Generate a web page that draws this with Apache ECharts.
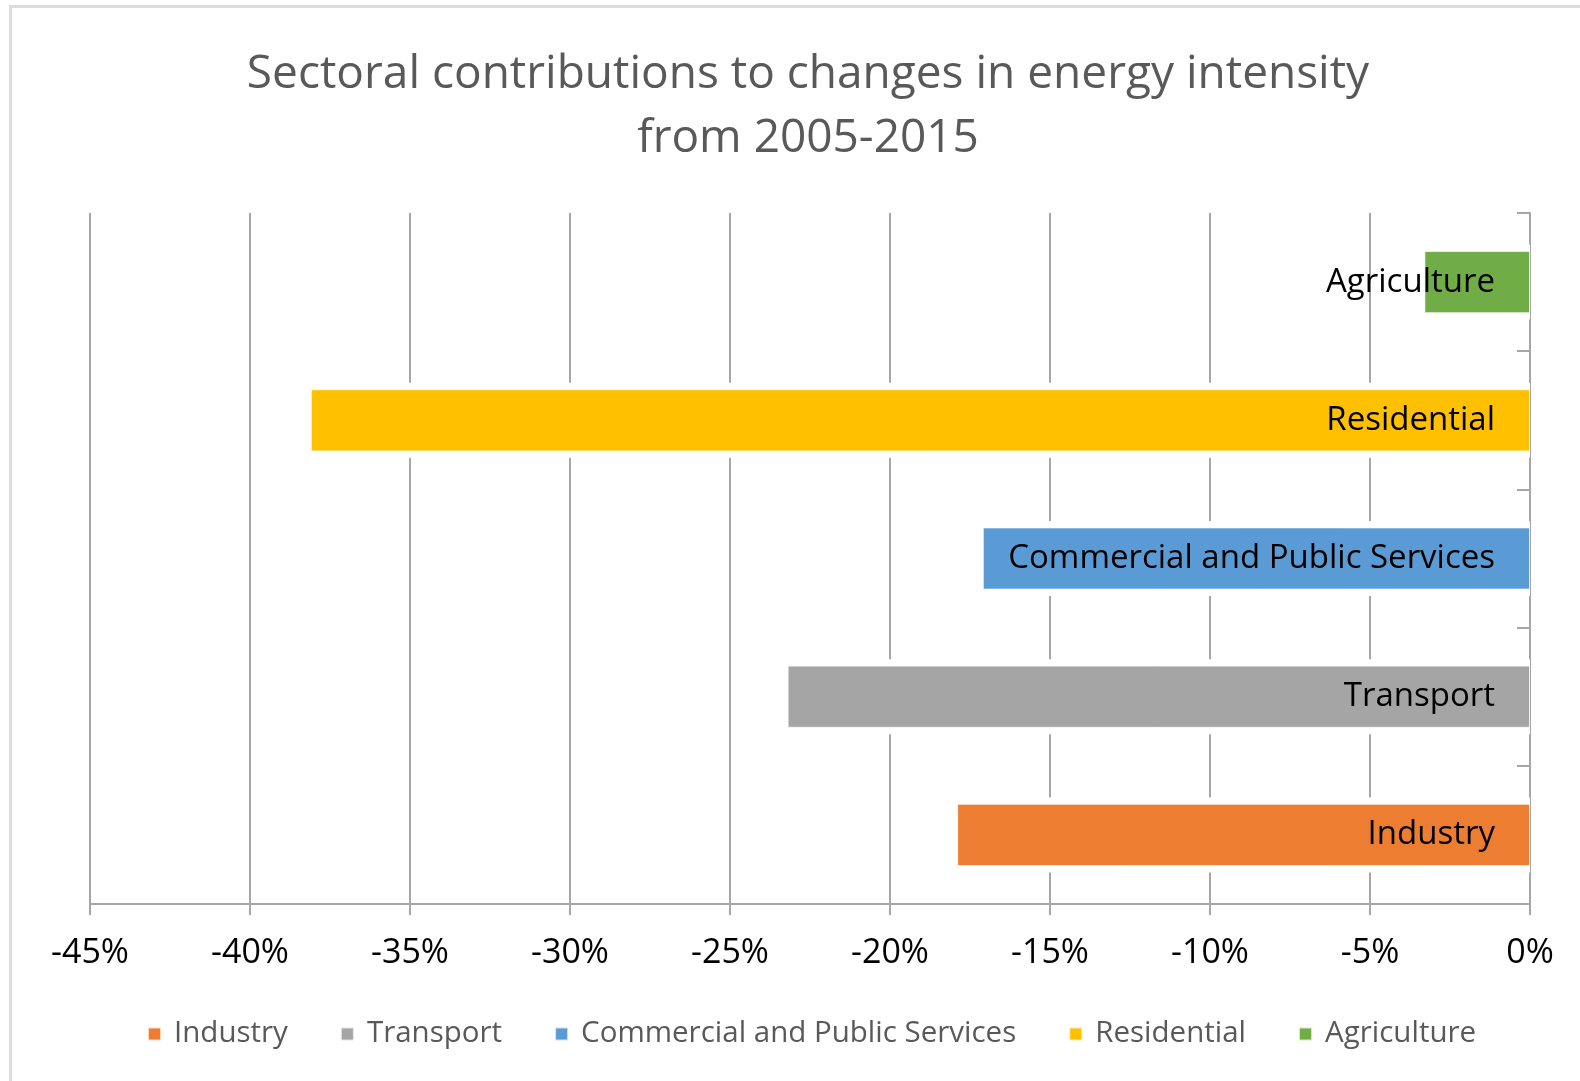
<!DOCTYPE html>
<html>
<head>
<meta charset="utf-8">
<script src="https://cdn.jsdelivr.net/npm/echarts@6/dist/echarts.min.js"></script>
<style>
  html, body { margin: 0; padding: 0; background: #fff; }
  #chart { width: 1580px; height: 1081px; }
</style>
</head>
<body>
<div id="chart"></div>
<script>
// sectors, bottom to top on the category axis
const categories = ['Industry', 'Transport', 'Commercial and Public Services', 'Residential', 'Agriculture'];
// contribution to change in energy intensity, 2005-2015 (%)
const values = [-17.9, -23.2, -17.1, -38.1, -3.3];
// x axis range / step (%)
const xMin = -45;
const xMax = 0;
const xStep = 5;

const colors = ['#ED7D31', '#A5A5A5', '#5B9BD5', '#FFC000', '#70AD47'];
const font = 'Open Sans';

const chart = echarts.init(document.getElementById('chart'));

// one series per sector so the legend gets 5 entries; stacked so each bar stays centred
const sectorSeries = categories.map(function (name, i) {
  return {
    name: name,
    type: 'bar',
    stack: 'total',
    barWidth: '45%',
    z: 3,
    data: values.map(function (v, j) { return j === i ? v : '-'; }),
    itemStyle: { color: colors[i], borderColor: 'rgba(255,255,255,0.7)', borderWidth: 1 },
    label: {
      show: true,
      position: 'insideRight',
      distance: 35,
      formatter: '{a}',
      color: '#000',
      fontFamily: font,
      fontSize: 33
    }
  };
});

// white band behind each bar, breaks the gridlines a little above/below like the original
const gapSeries = {
  name: 'gap',
  type: 'bar',
  yAxisIndex: 1,
  barWidth: 75,
  silent: true,
  z: 2,
  data: values,
  itemStyle: { color: '#fff' },
  label: { show: false }
};

const option = {
  animation: false,
  textStyle: { fontFamily: font },
  title: {
    text: 'Sectoral contributions to changes in energy intensity\nfrom 2005-2015',
    left: 803,
    top: 38,
    textAlign: 'center',
    textStyle: {
      fontFamily: font,
      fontSize: 46,
      fontWeight: 'normal',
      color: '#595959',
      lineHeight: 64
    }
  },
  legend: {
    data: categories,
    left: 142,
    bottom: 27,
    itemWidth: 13,
    itemHeight: 13,
    itemGap: 52,
    icon: 'rect',
    textStyle: {
      fontFamily: font,
      fontSize: 29.5,
      color: '#595959',
      padding: [0, 0, 0, 8]
    }
  },
  grid: { left: 90, right: 50, top: 213, bottom: 177 },
  xAxis: {
    type: 'value',
    min: xMin,
    max: xMax,
    interval: xStep,
    axisLine: { show: true, lineStyle: { color: '#a6a6a6', width: 2 } },
    axisTick: { show: true, length: 11, lineStyle: { color: '#a6a6a6', width: 2 } },
    axisLabel: {
      formatter: function (v) { return v + '%'; },
      color: '#000',
      fontFamily: font,
      fontSize: 34,
      margin: 32
    },
    splitLine: { show: true, lineStyle: { color: '#a6a6a6', width: 2 } }
  },
  yAxis: [
    {
      type: 'category',
      data: categories,
      position: 'right',
      axisLine: { show: true, lineStyle: { color: '#a6a6a6', width: 2 } },
      axisTick: { show: true, inside: true, length: 13, lineStyle: { color: '#a6a6a6', width: 2 } },
      axisLabel: { show: false },
      splitLine: { show: false }
    },
    {
      type: 'category',
      data: categories,
      show: false
    }
  ],
  graphic: [
    {
      type: 'rect',
      silent: true,
      shape: { x: 10.5, y: 6.5, width: 1620, height: 1120 },
      style: { fill: 'none', stroke: '#dcdcdc', lineWidth: 3 }
    }
  ],
  series: [gapSeries].concat(sectorSeries)
};

chart.setOption(option);
</script>
</body>
</html>
